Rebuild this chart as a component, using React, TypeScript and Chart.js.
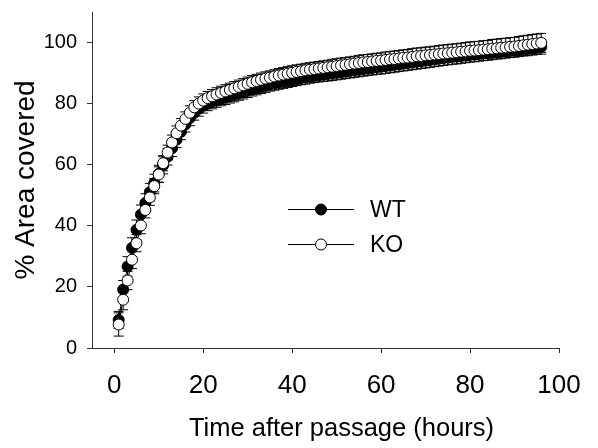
import React, { useEffect, useRef } from "react";
import { Chart, registerables } from "chart.js";

Chart.register(...registerables);

const hours = [
  1, 2, 3, 4, 5, 6, 7, 8, 9, 10, 11, 12,
  13, 14, 15, 16, 17, 18, 19, 20, 21, 22, 23, 24,
  25, 26, 27, 28, 29, 30, 31, 32, 33, 34, 35, 36,
  37, 38, 39, 40, 41, 42, 43, 44, 45, 46, 47, 48,
  49, 50, 51, 52, 53, 54, 55, 56, 57, 58, 59, 60,
  61, 62, 63, 64, 65, 66, 67, 68, 69, 70, 71, 72,
  73, 74, 75, 76, 77, 78, 79, 80, 81, 82, 83, 84,
  85, 86, 87, 88, 89, 90, 91, 92, 93, 94, 95, 96,
];

const wtValues = [
  9.2, 19.1, 26.7, 32.8, 38.7, 43.7, 47.5, 51.0, 54.0, 57.0, 59.8, 62.6,
  65.4, 68.2, 70.8, 73.2, 75.3, 77.0, 78.3, 79.3, 80.0, 80.6, 81.1, 81.6,
  82.0, 82.5, 82.9, 83.4, 83.8, 84.3, 84.7, 85.1, 85.5, 85.9, 86.3, 86.6,
  86.9, 87.2, 87.5, 87.8, 88.1, 88.4, 88.6, 88.9, 89.1, 89.3, 89.5, 89.7,
  89.9, 90.1, 90.3, 90.5, 90.7, 90.9, 91.1, 91.3, 91.5, 91.7, 91.9, 92.1,
  92.3, 92.5, 92.7, 92.9, 93.1, 93.3, 93.5, 93.7, 93.9, 94.1, 94.3, 94.5,
  94.7, 94.9, 95.1, 95.3, 95.4, 95.6, 95.8, 96.0, 96.1, 96.3, 96.5, 96.6,
  96.8, 97.0, 97.1, 97.3, 97.5, 97.6, 97.8, 98.0, 98.1, 98.3, 98.5, 98.6,
];

const wtErrors = [
  2.8, 3.0, 3.2, 3.3, 3.2, 3.1, 3.0, 2.9, 2.9, 2.8, 2.8, 2.7,
  2.7, 2.6, 2.6, 2.5, 2.5, 2.4, 2.4, 2.4, 2.3, 2.3, 2.3, 2.3,
  2.3, 2.3, 2.3, 2.3, 2.3, 2.3, 2.2, 2.2, 2.2, 2.2, 2.2, 2.2,
  2.2, 2.2, 2.2, 2.2, 2.2, 2.2, 2.2, 2.2, 2.2, 2.2, 2.2, 2.3,
  2.3, 2.3, 2.3, 2.3, 2.3, 2.3, 2.3, 2.3, 2.3, 2.3, 2.3, 2.4,
  2.4, 2.4, 2.4, 2.4, 2.4, 2.4, 2.4, 2.4, 2.4, 2.4, 2.4, 2.4,
  2.4, 2.4, 2.4, 2.4, 2.4, 2.4, 2.4, 2.4, 2.4, 2.4, 2.4, 2.4,
  2.4, 2.4, 2.4, 2.4, 2.4, 2.4, 2.4, 2.4, 2.4, 2.4, 2.4, 2.4,
];

const koValues = [
  7.7, 15.8, 22.1, 28.9, 34.3, 40.1, 45.2, 49.3, 53.0, 56.8, 60.5, 64.0,
  67.3, 70.3, 72.8, 75.0, 77.0, 78.8, 80.0, 81.0, 81.8, 82.4, 83.0, 83.5,
  84.0, 84.5, 85.0, 85.5, 86.0, 86.5, 87.0, 87.4, 87.8, 88.2, 88.5, 88.9,
  89.2, 89.5, 89.8, 90.1, 90.4, 90.6, 90.9, 91.1, 91.3, 91.5, 91.7, 91.9,
  92.1, 92.3, 92.5, 92.7, 92.9, 93.1, 93.3, 93.5, 93.6, 93.8, 94.0, 94.1,
  94.3, 94.5, 94.6, 94.8, 95.0, 95.1, 95.3, 95.5, 95.6, 95.8, 95.9, 96.1,
  96.2, 96.4, 96.5, 96.7, 96.8, 97.0, 97.1, 97.3, 97.4, 97.5, 97.7, 97.8,
  98.0, 98.1, 98.3, 98.4, 98.6, 98.7, 98.9, 99.1, 99.3, 99.5, 99.7, 99.9,
];

const koErrors = [
  3.8, 3.3, 3.0, 2.9, 2.8, 2.7, 2.6, 2.6, 2.5, 2.5, 2.5, 2.4,
  2.4, 2.4, 2.3, 2.3, 2.3, 2.2, 2.2, 2.2, 2.2, 2.2, 2.2, 2.2,
  2.2, 2.2, 2.2, 2.2, 2.2, 2.2, 2.2, 2.2, 2.2, 2.2, 2.2, 2.2,
  2.3, 2.3, 2.3, 2.3, 2.3, 2.3, 2.3, 2.3, 2.3, 2.3, 2.3, 2.3,
  2.4, 2.4, 2.4, 2.4, 2.4, 2.4, 2.5, 2.5, 2.5, 2.5, 2.5, 2.5,
  2.6, 2.6, 2.6, 2.6, 2.6, 2.6, 2.7, 2.7, 2.7, 2.7, 2.7, 2.7,
  2.8, 2.8, 2.8, 2.8, 2.8, 2.8, 2.9, 2.9, 2.9, 2.9, 2.9, 2.9,
  3.0, 3.0, 3.0, 3.0, 3.0, 3.0, 3.1, 3.1, 3.1, 3.1, 3.1, 3.1,
];

const seriesLabels = ["WT", "KO"];
const xTickValues = [0, 20, 40, 60, 80, 100];
const yTickValues = [0, 20, 40, 60, 80, 100];
const xTitle = "Time after passage (hours)";
const yTitle = "% Area covered";

const FONT = "'Liberation Sans', Arial, Helvetica, sans-serif";
const AXIS_COLOR = "#333333";

const errorBarPlugin = {
  id: "errorBars",
  beforeDatasetDraw(chart: any, args: any) {
    const ds = chart.data.datasets[args.index];
    const errs: number[] = ds.errors;
    if (!errs) return;
    const xs = chart.scales.x;
    const ys = chart.scales.y;
    const ctx = chart.ctx;
    ctx.save();
    ctx.strokeStyle = "#000";
    ctx.lineWidth = 1;
    const cap = 5;
    ds.data.forEach((pt: any, i: number) => {
      const px = xs.getPixelForValue(pt.x);
      const top = ys.getPixelForValue(pt.y + errs[i]);
      const bot = ys.getPixelForValue(pt.y - errs[i]);
      ctx.beginPath();
      ctx.moveTo(px, top);
      ctx.lineTo(px, bot);
      ctx.moveTo(px - cap, top);
      ctx.lineTo(px + cap, top);
      ctx.moveTo(px - cap, bot);
      ctx.lineTo(px + cap, bot);
      ctx.stroke();
    });
    ctx.restore();
  },
};

const legendPlugin = {
  id: "customLegend",
  afterDraw(chart: any) {
    const ctx = chart.ctx;
    const items = chart.data.datasets.map((d: any) => ({
      label: d.label,
      fill: d.pointBackgroundColor,
    }));
    const x0 = 288;
    const x1 = 354;
    const mx = 321;
    const ys = [209.5, 244.5];
    ctx.save();
    items.forEach((it: any, i: number) => {
      const y = ys[i];
      ctx.strokeStyle = "#000";
      ctx.lineWidth = 1;
      ctx.beginPath();
      ctx.moveTo(x0, y);
      ctx.lineTo(x1, y);
      ctx.stroke();
      ctx.beginPath();
      ctx.arc(mx, y, 5.5, 0, Math.PI * 2);
      ctx.fillStyle = it.fill;
      ctx.fill();
      ctx.stroke();
      ctx.fillStyle = "#000";
      ctx.font = `23px ${FONT}`;
      ctx.textAlign = "left";
      ctx.textBaseline = "middle";
      ctx.fillText(it.label, 370, y + 1);
    });
    // x-axis title
    ctx.font = `25.5px ${FONT}`;
    ctx.textAlign = "center";
    ctx.textBaseline = "middle";
    ctx.fillStyle = "#000";
    ctx.fillText(xTitle, 341.5, 429);
    ctx.restore();
  },
};

export default function App() {
  const canvasRef = useRef<HTMLCanvasElement | null>(null);

  useEffect(() => {
    document.body.style.margin = "0";
    const canvas = canvasRef.current;
    if (!canvas) return;
    const wtData = hours.map((h, i) => ({ x: h, y: wtValues[i] }));
    const koData = hours.map((h, i) => ({ x: h, y: koValues[i] }));
    const chart = new Chart(canvas, {
      type: "scatter",
      data: {
        datasets: [
          {
            label: seriesLabels[0],
            data: wtData,
            errors: wtErrors,
            order: 1,
            showLine: true,
            borderColor: "#000",
            borderWidth: 1,
            pointRadius: 5.5,
            pointBorderWidth: 1,
            pointBackgroundColor: "#000000",
            pointBorderColor: "#000",
          } as any,
          {
            label: seriesLabels[1],
            data: koData,
            errors: koErrors,
            order: 0,
            showLine: true,
            borderColor: "#000",
            borderWidth: 1,
            pointRadius: 5.5,
            pointBorderWidth: 1,
            pointBackgroundColor: "#ffffff",
            pointBorderColor: "#000",
          } as any,
        ],
      },
      options: {
        responsive: false,
        animation: false,
        layout: { padding: { left: 0, right: 39, top: 12, bottom: 0 } },
        plugins: {
          legend: { display: false },
          tooltip: { enabled: false },
        },
        scales: {
          x: {
            type: "linear",
            min: -5,
            max: 100,
            afterBuildTicks: (s: any) => {
              s.ticks = xTickValues.map((v) => ({ value: v }));
            },
            afterFit: (s: any) => {
              s.height = 100;
              s.paddingLeft = 0;
              s.paddingRight = 0;
            },
            grid: {
              display: true,
              drawOnChartArea: false,
              drawTicks: true,
              tickLength: 5,
              color: AXIS_COLOR,
            },
            border: { display: true, color: AXIS_COLOR, width: 1 },
            ticks: {
              color: "#000",
              padding: 17,
              maxRotation: 0,
              font: { family: FONT, size: 26 },
            },
            title: { display: false, text: xTitle },
          },
          y: {
            type: "linear",
            min: 0,
            max: 110,
            afterBuildTicks: (s: any) => {
              s.ticks = yTickValues.map((v) => ({ value: v }));
            },
            afterFit: (s: any) => {
              s.width = 92;
              s.paddingTop = 0;
              s.paddingBottom = 0;
            },
            grid: {
              display: true,
              drawOnChartArea: false,
              drawTicks: true,
              tickLength: 5,
              color: AXIS_COLOR,
            },
            border: { display: true, color: AXIS_COLOR, width: 1 },
            ticks: {
              color: "#000",
              padding: 10,
              font: { family: FONT, size: 20 },
            },
            title: {
              display: true,
              text: yTitle,
              color: "#000",
              padding: { top: 9, bottom: 0 },
              font: { family: FONT, size: 28 },
            },
          },
        },
      },
      plugins: [errorBarPlugin, legendPlugin],
    });
    return () => chart.destroy();
  }, []);

  return (
    <div style={{ width: 598, height: 448 }}>
      <canvas ref={canvasRef} width={598} height={448} style={{ display: "block" }} />
    </div>
  );
}
